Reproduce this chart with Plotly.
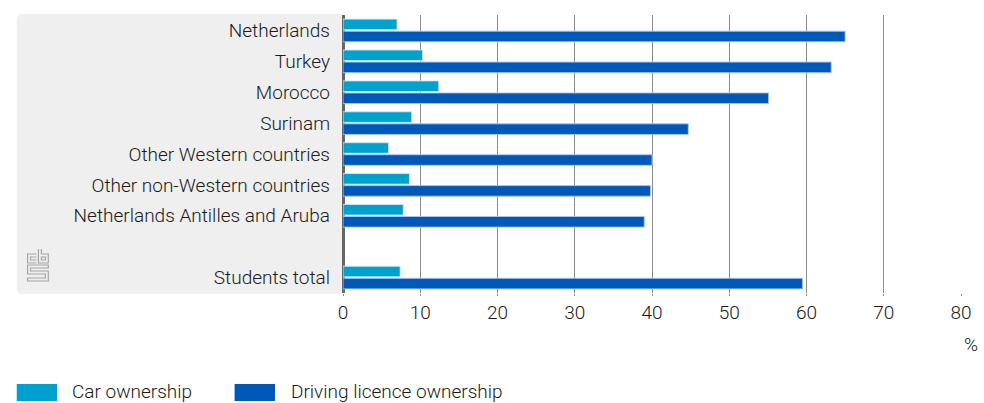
import plotly.graph_objects as go

# Ownership among students, by origin group (%)
groups = [
    "Netherlands",
    "Turkey",
    "Morocco",
    "Surinam",
    "Other Western countries",
    "Other non-Western countries",
    "Netherlands Antilles and Aruba",
    "Students total",
]
car_ownership = [7.0, 10.3, 12.4, 8.9, 5.9, 8.6, 7.8, 7.4]
licence_ownership = [65.0, 63.2, 55.1, 44.7, 40.0, 39.8, 39.0, 59.5]
x_ticks = [0, 10, 20, 30, 40, 50, 60, 70, 80]

# empty row that separates the total from the groups
row_order = groups[:7] + [" "] + groups[7:]

CAR = "#00a1cd"
LIC = "#0058b8"
FONT = "Roboto"
FS = 19
FW = 300
TXT = "#1a1a1a"

W, H = 984, 403
M_L, M_R, M_T, M_B = 343, 14, 15, 110
PW, PH = W - M_L - M_R, H - M_T - M_B


def px(x):
    return (x - M_L) / PW


def py(y):
    return (H - M_B - y) / PH


fig = go.Figure()
fig.add_trace(go.Bar(
    y=groups, x=car_ownership, orientation="h", name="Car ownership",
    marker=dict(color=CAR, line=dict(color="rgba(200,235,250,0.9)", width=1)),
    showlegend=False, hoverinfo="x+y",
))
fig.add_trace(go.Bar(
    y=groups, x=licence_ownership, orientation="h", name="Driving licence ownership",
    marker=dict(color=LIC, line=dict(color="rgba(170,200,240,0.9)", width=1)),
    showlegend=False, hoverinfo="x+y",
))

shapes = []

# grey label panel with rounded corners, in pixel terms
x0, x1, y0, y1, r = 12, 342, 14, 294, 6
panel = (
    f"M {px(x0 + r)},{py(y0)} L {px(x1)},{py(y0)} L {px(x1)},{py(y1)} "
    f"L {px(x0 + r)},{py(y1)} Q {px(x0)},{py(y1)} {px(x0)},{py(y1 - r)} "
    f"L {px(x0)},{py(y0 + r)} Q {px(x0)},{py(y0)} {px(x0 + r)},{py(y0)} Z"
)
shapes.append(dict(type="path", xref="paper", yref="paper", path=panel,
                   fillcolor="#efefef", line=dict(width=0), layer="below"))


def pline(points, close=False):
    d = "M " + " L ".join(f"{px(a)},{py(b)}" for a, b in points)
    return d + (" Z" if close else "")


# cbs logo as double-line strokes
logo_paths = [
    # c
    [(32, 254), (23, 254), (23, 263), (32, 263)],
    [(32, 257), (26, 257), (26, 260), (32, 260)],
    # b
    [(34, 249), (34, 263), (44, 263), (44, 254), (37, 254), (37, 249)],
    [(37, 257), (41, 257), (41, 260), (37, 260)],
    # s
    [(44, 265), (23, 265), (23, 274), (41, 274), (41, 278), (23, 278),
     (23, 281), (44, 281), (44, 271), (26, 271), (26, 268), (44, 268)],
]
for i, pts in enumerate(logo_paths):
    shapes.append(dict(type="path", xref="paper", yref="paper",
                       path=pline(pts, close=(i in (3, 4))),
                       line=dict(color="#a6a6a6", width=1.2), layer="above"))

# legend swatches
shapes.append(dict(type="rect", xref="paper", yref="paper",
                   x0=px(12), x1=px(53), y0=py(401), y1=py(384),
                   fillcolor=CAR, line=dict(width=0)))
shapes.append(dict(type="rect", xref="paper", yref="paper",
                   x0=px(233), x1=px(274), y0=py(401), y1=py(384),
                   fillcolor=LIC, line=dict(width=0)))

txt_font = dict(family=FONT, size=FS, color=TXT, weight=FW)
annotations = [
    dict(text="Car ownership", x=px(66), y=py(391), xref="paper", yref="paper",
         xanchor="left", yanchor="middle", showarrow=False, font=txt_font),
    dict(text="Driving licence ownership", x=px(288), y=py(391), xref="paper",
         yref="paper", xanchor="left", yanchor="middle", showarrow=False,
         font=txt_font),
    dict(text="%", x=px(971), y=py(344), xref="paper", yref="paper",
         xanchor="left", yanchor="middle", showarrow=False, font=txt_font),
]

fig.update_layout(
    width=W, height=H,
    margin=dict(l=M_L, r=M_R, t=M_T, b=M_B, pad=0),
    paper_bgcolor="white", plot_bgcolor="rgba(0,0,0,0)",
    barmode="group", bargap=0.22, bargroupgap=0.12,
    font=txt_font,
    shapes=shapes, annotations=annotations,
    xaxis=dict(
        range=[0, 80], tickvals=x_ticks, ticktext=[str(v) for v in x_ticks],
        showgrid=True, gridcolor="#8c8c8c", gridwidth=1,
        zeroline=True, zerolinecolor="#666666", zerolinewidth=3,
        ticks="outside", ticklen=2, tickcolor="#8c8c8c",
        showline=False, tickfont=txt_font,
        fixedrange=True,
    ),
    yaxis=dict(
        type="category", categoryorder="array", categoryarray=row_order,
        range=[8.5, -0.5], showgrid=False, zeroline=False,
        ticks="", ticklabelstandoff=12, tickfont=txt_font,
        fixedrange=True,
    ),
)

fig.write_html("out.html")
